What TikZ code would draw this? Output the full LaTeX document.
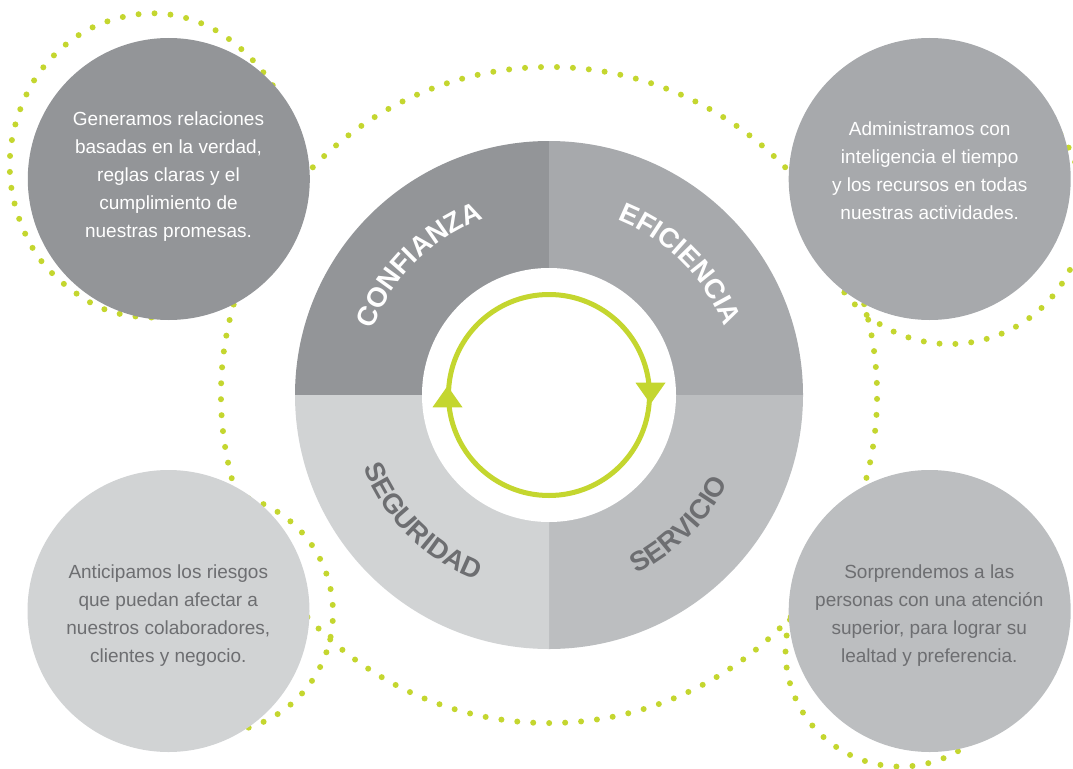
\documentclass[tikz,border=0pt]{standalone}
\usepackage{fontspec}
\setmainfont{Liberation Sans}
\usetikzlibrary{decorations.text,calc}

\definecolor{toneA}{HTML}{939598}
\definecolor{toneB}{HTML}{A7A9AC}
\definecolor{toneC}{HTML}{BCBEC0}
\definecolor{toneD}{HTML}{D1D3D4}
\definecolor{ink}{HTML}{6D6E71}
\definecolor{lime}{HTML}{C4D62F}

\begin{document}
\begin{tikzpicture}[x=1pt,y=1pt,
  dotring/.style={draw=lime, line width=6pt, line cap=round, dash pattern=on 0pt off #1},
  dotring/.default=16pt,
  bubble/.style={circle, inner sep=0pt, minimum size=282pt},
  hubdisc/.style={circle, inner sep=0pt, minimum size=254pt, fill=white},
  blurb/.style={align=center, inner sep=0pt, font=\fontsize{19}{28}\selectfont},
  cycleline/.style={draw=lime, line width=5pt},
  tip/.style={fill=lime},
  arclabel/.style={decorate, decoration={text along path, text align=center, text={#1}}}
]
\useasboundingbox (0,0) rectangle (1073,-768);
\clip (0,0) rectangle (1073,-768);

\coordinate (c) at (549,-395);

% dotted orbits, each started at a point that a disc covers
\draw[dotring=15.976pt] ($(c)+(150:328)$) arc[start angle=150, delta angle=-360, radius=328];
\draw[dotring=15.885pt] ($(950,-210)+(150:134)$) arc[start angle=150, delta angle=-360, radius=134];
\draw[dotring=16.06pt] ($(900.5,-651.6)+(60:115)$) arc[start angle=60, delta angle=-360, radius=115];
\draw[dotring=16.04pt] ($(213,-613)+(180:120)$) arc[start angle=180, delta angle=-360, radius=120];
\draw[dotring] plot[smooth cycle, tension=0.6] coordinates {
  (293,-200) (255,-280) (185,-312) (138,-316.7) (90,-302.3) (40,-259.3)
  (13.3,-198.3) (12.7,-135.7) (38.3,-74) (87.3,-30) (151.7,-13.3)
  (212,-28.3) (262.3,-71) (290,-125)};

% four value quadrants
\fill[toneA] (c) -- ($(c)+(180:254)$) arc[start angle=180, end angle=90, radius=254] -- cycle;
\fill[toneB] (c) -- ($(c)+(90:254)$) arc[start angle=90, end angle=0, radius=254] -- cycle;
\fill[toneC] (c) -- ($(c)+(0:254)$) arc[start angle=0, end angle=-90, radius=254] -- cycle;
\fill[toneD] (c) -- ($(c)+(270:254)$) arc[start angle=270, end angle=180, radius=254] -- cycle;

\node[hubdisc] (hub) at (c) {};

% cycle arrow in the hub
\draw[cycleline] (hub.center) circle[radius=100.5];
\fill[tip] ($(hub.center)+(-116.5,-12.3)$) -- ++(30,0) -- ++(-15,21.3) -- cycle;
\fill[tip] ($(hub.center)+(116.5,12.3)$) -- ++(-30,0) -- ++(15,-21.3) -- cycle;

% quadrant labels along the ring
\path[arclabel={|\bfseries\fontsize{27.5}{27.5}\selectfont\color{white}|CONFIANZA}]
  ($(c)+(180:188)$) arc[start angle=180, end angle=90, radius=188];
\path[arclabel={|\bfseries\fontsize{27.5}{27.5}\selectfont\color{white}|EFICIENCIA}]
  ($(c)+(90:188)$) arc[start angle=90, end angle=0, radius=188];
\path[arclabel={|\bfseries\fontsize{27.5}{27.5}\selectfont\color{ink}|SEGURIDAD}]
  ($(c)+(180:199)$) arc[start angle=180, end angle=270, radius=199];
\path[arclabel={|\bfseries\fontsize{27.5}{27.5}\selectfont\color{ink}|SERVICIO}]
  ($(c)+(270:199)$) arc[start angle=270, end angle=360, radius=199];

% corner discs
\node[bubble, fill=toneA] (trust) at (168.8,-179) {};
\node[bubble, fill=toneB] (effic) at (929.7,-179) {};
\node[bubble, fill=toneD] (safety) at (168.5,-611) {};
\node[bubble, fill=toneC] (service) at (929.7,-611) {};

\node[blurb, text=white] (trustText) at (168.5,-176.4)
  {Generamos relaciones\\basadas en la verdad,\\reglas claras y el\\cumplimiento de\\nuestras promesas.};
\node[blurb, text=white] (efficText) at (929.7,-170.3)
  {Administramos con\\inteligencia el tiempo\\y los recursos en todas\\nuestras actividades.};
\node[blurb, text=ink] (safetyText) at (168.3,-615.2)
  {Anticipamos los riesgos\\que puedan afectar a\\nuestros colaboradores,\\clientes y negocio.};
\node[blurb, text=ink] (serviceText) at (929.3,-615.2)
  {Sorprendemos a las\\personas con una atención\\superior, para lograr su\\lealtad y preferencia.};
\end{tikzpicture}
\end{document}
